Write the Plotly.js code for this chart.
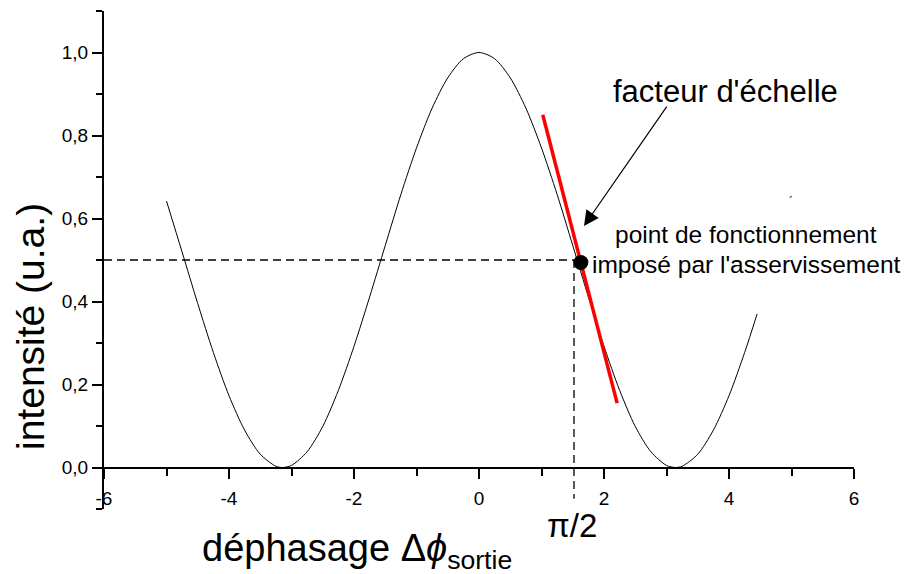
<!DOCTYPE html>
<html>
<head>
<meta charset="utf-8">
<script src="https://cdn.plot.ly/plotly-3.0.1.min.js"></script>
<style>html,body{margin:0;padding:0;background:#fff;}#chart{width:906px;height:574px;}</style>
</head>
<body>
<div id="chart"></div>
<script>
// Signal curve (intensity vs phase shift)
const phase = [-5, -4.75, -4.5, -4.25, -4, -3.75, -3.5, -3.25, -3.14, -3, -2.75, -2.5, -2.25, -2, -1.75, -1.5, -1.25, -1, -0.75, -0.5, -0.25, 0, 0.25, 0.5, 0.75, 1, 1.25, 1.5, 1.75, 2, 2.25, 2.5, 2.75, 3, 3.14, 3.25, 3.5, 3.75, 4, 4.25, 4.45];
const intensity = [0.642, 0.519, 0.395, 0.277, 0.173, 0.090, 0.032, 0.003, 0.000, 0.005, 0.038, 0.099, 0.186, 0.292, 0.411, 0.535, 0.658, 0.770, 0.866, 0.939, 0.985, 1.000, 0.985, 0.939, 0.866, 0.770, 0.658, 0.535, 0.411, 0.292, 0.186, 0.099, 0.038, 0.005, 0.000, 0.003, 0.032, 0.090, 0.173, 0.277, 0.370];

// Tangent (scale factor) line
const tangentX = [1.02, 2.21];
const tangentY = [0.85, 0.155];

// Operating point
const opX = [1.63];
const opY = [0.494];

// Dashed guide lines
const guideHX = [-6, 1.52];
const guideHY = [0.5, 0.5];
const guideVX = [1.52, 1.52];
const guideVY = [0.5, -0.075];

// Ticks
const xTickVals = [-6, -4, -2, 0, 2, 4, 6];
const xTickText = ['-6', '-4', '-2', '0', '2', '4', '6'];
const xMinorVals = [-5, -3, -1, 1, 3, 5];
const yTickVals = [0, 0.2, 0.4, 0.6, 0.8, 1.0];
const yTickText = ['0,0', '0,2', '0,4', '0,6', '0,8', '1,0'];
const yMinorVals = [-0.1, 0.1, 0.3, 0.5, 0.7, 0.9, 1.1];

const FONT = 'Liberation Sans, Arial, sans-serif';

const traces = [
  {x: guideHX, y: guideHY, mode: 'lines', line: {color: '#000', width: 1.3, dash: '8px,5px'}, hoverinfo: 'skip'},
  {x: guideVX, y: guideVY, mode: 'lines', line: {color: '#000', width: 1.3, dash: '8px,5px'}, hoverinfo: 'skip', cliponaxis: false},
  {x: phase, y: intensity, mode: 'lines', line: {color: '#000', width: 1, shape: 'spline', smoothing: 0.8}},
  {x: tangentX, y: tangentY, mode: 'lines', line: {color: '#ff0000', width: 3.5}},
  {x: opX, y: opY, mode: 'markers', marker: {color: '#000', size: 15}}
];

const layout = {
  width: 906, height: 574,
  margin: {l: 104, r: 52, t: 11, b: 65},
  paper_bgcolor: '#fff', plot_bgcolor: '#fff',
  showlegend: false,
  font: {family: FONT, color: '#000', size: 19},
  xaxis: {
    range: [-6, 6], anchor: 'free', position: 0.1 / 1.2,
    showline: true, linewidth: 2, linecolor: '#000',
    showgrid: false, zeroline: false,
    ticks: 'outside', ticklen: 10, tickwidth: 2, tickcolor: '#000',
    tickmode: 'array', tickvals: xTickVals, ticktext: xTickText,
    tickfont: {family: FONT, size: 19, color: '#000'},
    ticklabelstandoff: 4,
    minor: {tickmode: 'array', tickvals: xMinorVals, ticks: 'outside', ticklen: 7, tickwidth: 2, tickcolor: '#000', showgrid: false}
  },
  yaxis: {
    range: [-0.1, 1.1],
    showline: true, linewidth: 2, linecolor: '#000',
    showgrid: false, zeroline: false,
    ticks: 'outside', ticklen: 10, tickwidth: 2, tickcolor: '#000',
    tickmode: 'array', tickvals: yTickVals, ticktext: yTickText,
    tickfont: {family: FONT, size: 19, color: '#000'},
    minor: {tickmode: 'array', tickvals: yMinorVals, ticks: 'outside', ticklen: 6, tickwidth: 2, tickcolor: '#000', showgrid: false}
  },
  annotations: [
    {xref: 'paper', yref: 'paper', x: -0.099, y: 0.367, text: 'intensité (u.a.)', textangle: -90,
     showarrow: false, font: {family: FONT, size: 39, color: '#000'}, xanchor: 'center', yanchor: 'middle'},
    {xref: 'paper', yref: 'paper', x: 0.128, y: -0.085, text: 'déphasage Δ<i>ϕ</i><sub>sortie</sub>',
     showarrow: false, font: {family: FONT, size: 38, color: '#000'}, xanchor: 'left', yanchor: 'middle'},
    {xref: 'paper', yref: 'paper', x: 0.624, y: -0.034, text: 'π/2', showarrow: false,
     font: {family: FONT, size: 33, color: '#000'}, xanchor: 'center', yanchor: 'middle'},
    {xref: 'x', yref: 'y', x: 3.95, y: 0.905, text: "facteur d'échelle", showarrow: false,
     font: {family: FONT, size: 31, color: '#000'}, xanchor: 'center', yanchor: 'middle'},
    {xref: 'x', yref: 'y', x: 4.27, y: 0.562, text: 'point de fonctionnement', showarrow: false,
     font: {family: FONT, size: 24.5, color: '#000'}, xanchor: 'center', yanchor: 'middle'},
    {xref: 'x', yref: 'y', x: 4.28, y: 0.49, text: "imposé par l'asservissement", showarrow: false,
     font: {family: FONT, size: 24.5, color: '#000'}, xanchor: 'center', yanchor: 'middle'},
    {xref: 'x', yref: 'y', x: 1.68, y: 0.582, axref: 'x', ayref: 'y', ax: 3.02, ay: 0.873,
     text: '', showarrow: true, arrowhead: 2, arrowsize: 2.5, arrowwidth: 1.2, arrowcolor: '#000'},
    {xref: 'x', yref: 'y', x: 4.99, y: 0.64, text: '´', showarrow: false,
     font: {family: FONT, size: 12, color: '#000'}}
  ]
};

Plotly.newPlot('chart', traces, layout, {staticPlot: true, displayModeBar: false});
</script>
</body>
</html>
